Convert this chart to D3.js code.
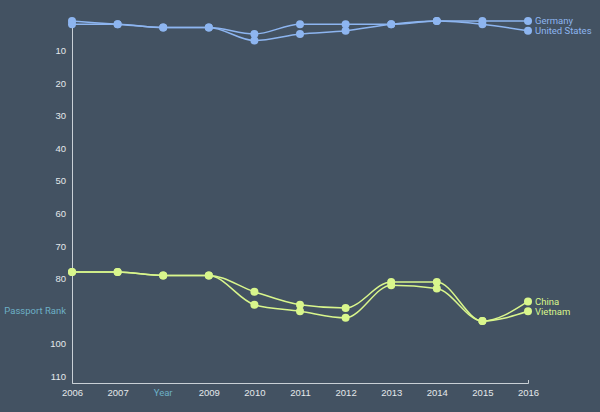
<!DOCTYPE html>
<html>
<head>
<meta charset="utf-8">
<script src="https://cdn.jsdelivr.net/npm/d3@7"></script>
<style>
  body { margin: 0; background: #435262; }
  svg { display: block; font-family: Roboto, "Open Sans", sans-serif; }
</style>
</head>
<body>
<div id="chart"></div>
<script>
// Data
var years = [2006, 2007, 2008, 2009, 2010, 2011, 2012, 2013, 2014, 2015, 2016];
var germany = [1, 2, 3, 3, 5, 2, 2, 2, 1, 1, 1];
var unitedStates = [2, 2, 3, 3, 7, 5, 4, 2, 1, 2, 4];
var china = [78, 78, 79, 79, 84, 88, 89, 81, 81, 93, 87];
var vietnam = [78, 78, 79, 79, 88, 90, 92, 82, 83, 93, 90];
var yTicks = [10, 20, 30, 40, 50, 60, 70, 80, 100, 110];

var series = [
  {name: "Germany", values: germany, color: "#8db5f0"},
  {name: "United States", values: unitedStates, color: "#8db5f0"},
  {name: "China", values: china, color: "#d9f68c"},
  {name: "Vietnam", values: vietnam, color: "#d9f68c"}
];

var W = 600, H = 412;
var margin = {top: 21, right: 72, bottom: 29, left: 72};
var fs = "9.5px";

var svg = d3.select("#chart").append("svg")
  .attr("width", W)
  .attr("height", H);

var x = d3.scaleLinear()
  .domain([2006, 2016])
  .range([margin.left, W - margin.right]);

var y = d3.scaleLinear()
  .domain([1, 112])
  .range([margin.top, H - margin.bottom]);

// x axis (2008 label replaced by the axis title)
var xAxis = svg.append("g")
  .attr("transform", "translate(0," + (H - margin.bottom) + ")")
  .call(d3.axisBottom(x)
    .tickValues(years.filter(d => d !== 2008))
    .tickFormat(d3.format("d"))
    .tickSize(0)
    .tickSizeOuter(-3)
    .tickPadding(6));
xAxis.select(".domain").attr("stroke", "#c9d0d6");
xAxis.selectAll("text").attr("fill", "#e4e8eb").style("font-size", fs);

// y axis (90 label replaced by the axis title)
var yAxis = svg.append("g")
  .attr("transform", "translate(" + margin.left + ",0)")
  .call(d3.axisLeft(y)
    .tickValues(yTicks)
    .tickSize(0)
    .tickSizeOuter(0)
    .tickPadding(6));
yAxis.select(".domain").attr("stroke", "#c9d0d6");
yAxis.selectAll("text").attr("fill", "#e4e8eb").style("font-size", fs);

// axis titles
svg.append("text")
  .attr("x", x(2008))
  .attr("y", H - margin.bottom + 6)
  .attr("dy", "0.71em")
  .attr("text-anchor", "middle")
  .attr("fill", "#6db0c6")
  .style("font-size", fs)
  .text("Year");

svg.append("text")
  .attr("x", margin.left - 6)
  .attr("y", y(90))
  .attr("dy", "0.32em")
  .attr("text-anchor", "end")
  .attr("fill", "#6db0c6")
  .style("font-size", fs)
  .text("Passport Rank");

var line = d3.line()
  .x((d, i) => x(years[i]))
  .y(d => y(d))
  .curve(d3.curveMonotoneX);

var g = svg.selectAll(".series")
  .data(series)
  .enter().append("g")
  .attr("class", "series");

g.append("path")
  .attr("d", d => line(d.values))
  .attr("fill", "none")
  .attr("stroke", d => d.color)
  .attr("stroke-width", 1.5);

g.selectAll("circle")
  .data(d => d.values.map((v, i) => ({v: v, i: i, color: d.color})))
  .enter().append("circle")
  .attr("cx", d => x(years[d.i]))
  .attr("cy", d => y(d.v))
  .attr("r", 4)
  .attr("fill", d => d.color);

g.append("text")
  .attr("x", x(2016) + 7)
  .attr("y", d => y(d.values[d.values.length - 1]))
  .attr("dy", "0.35em")
  .attr("fill", d => d.color)
  .style("font-size", fs)
  .text(d => d.name);
</script>
</body>
</html>
